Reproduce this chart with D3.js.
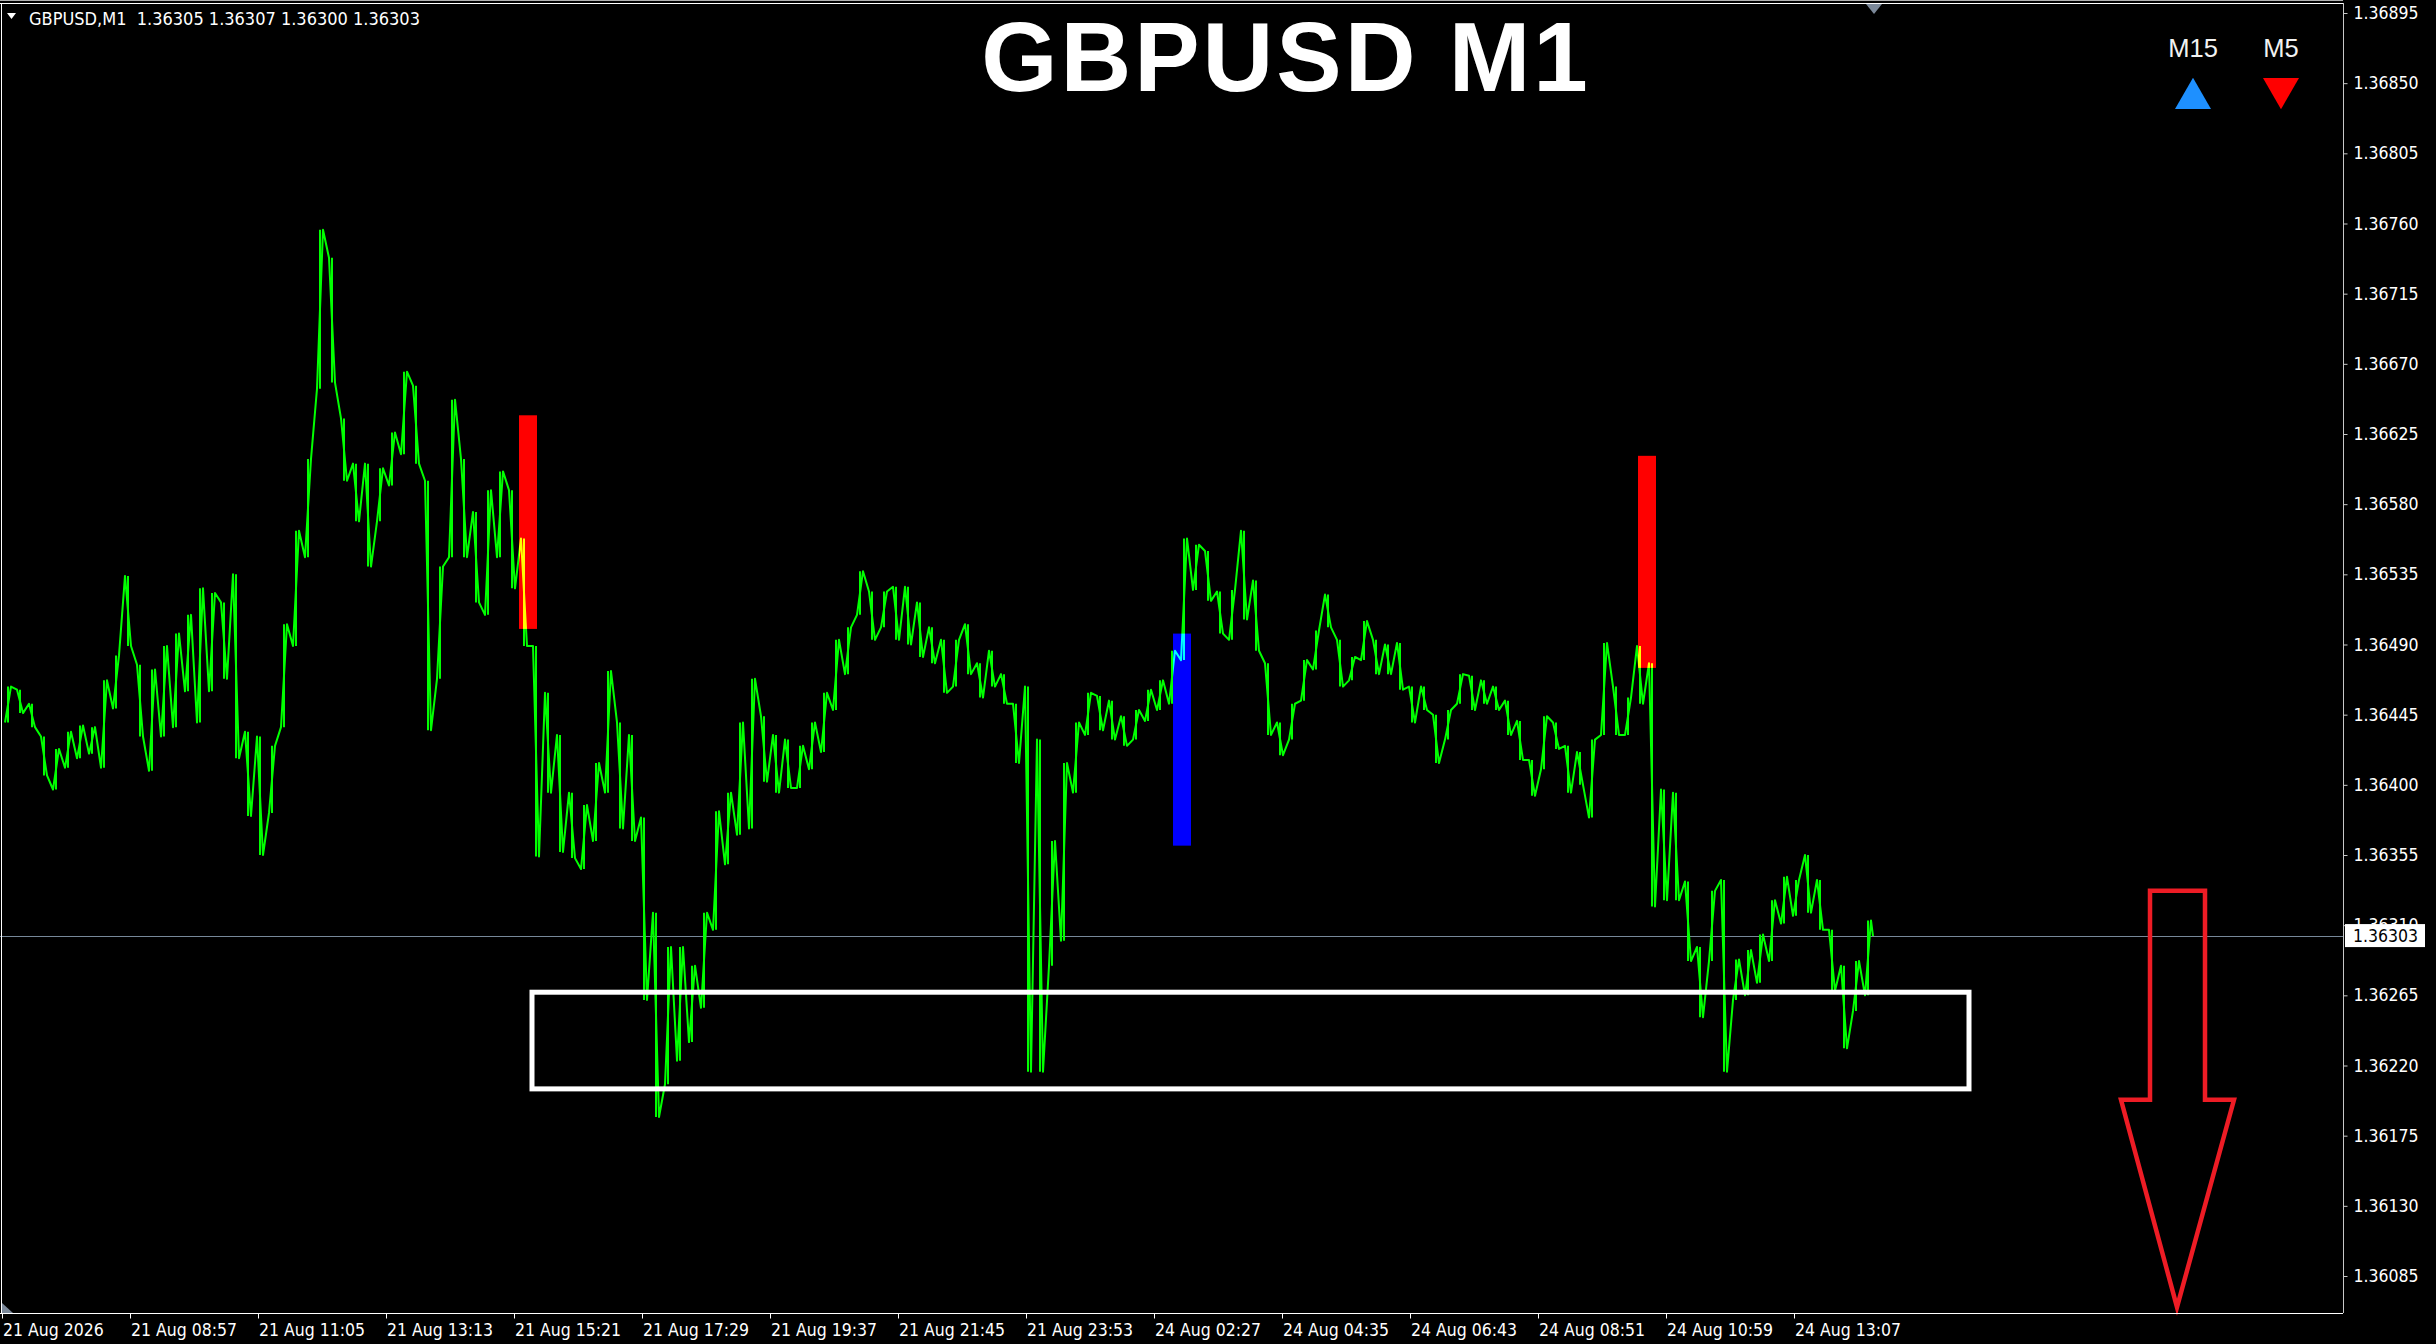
<!DOCTYPE html>
<html><head><meta charset="utf-8">
<script src="https://cdn.jsdelivr.net/npm/d3@7"></script>
<style>
html,body{margin:0;padding:0;background:#000;overflow:hidden}
svg{display:block}
.mt{font-family:"DejaVu Sans Condensed","DejaVu Sans",sans-serif;font-stretch:condensed;}
</style></head><body>
<svg id="c" width="2436" height="1344"></svg>
<script>
// ---------- DATA ----------
const symbol = "GBPUSD";
const timeframe = "M1";
const lastOHLC = [1.36305, 1.36307, 1.36300, 1.36303];
const lastPrice = 1.36303;
const barsPerBlock = 12;   // each block summarises 12 one-minute bars
const blockHighs = [
1.36463,1.36461,1.36452,1.36431,1.36423,1.36434,1.36438,1.36437,1.36467,1.36483,
1.36534,1.36477,1.36474,1.36489,1.36497,1.36509,1.36526,1.36523,1.36517,1.36535,
1.36434,1.36431,1.36425,1.36503,1.36563,1.36609,1.36756,1.36738,1.36635,1.36606,
1.36606,1.36603,1.36626,1.36665,1.36656,1.36595,1.36540,1.36647,1.36609,1.36575,
1.36589,1.36601,1.36589,1.36558,1.36489,1.36459,1.36432,1.36395,1.36387,1.36414,
1.36473,1.36440,1.36432,1.36379,1.36318,1.36296,1.36296,1.36284,1.36318,1.36383,
1.36395,1.36440,1.36468,1.36444,1.36432,1.36429,1.36425,1.36440,1.36459,1.36493,
1.36501,1.36537,1.36524,1.36524,1.36527,1.36527,1.36517,1.36501,1.36493,1.36493,
1.36503,1.36478,1.36486,1.36471,1.36452,1.36463,1.36429,1.36364,1.36414,1.36440,
1.36459,1.36457,1.36454,1.36444,1.36448,1.36461,1.36467,1.36486,1.36558,1.36554,
1.36550,1.36524,1.36525,1.36563,1.36531,1.36478,1.36440,1.36452,1.36480,1.36499,
1.36522,1.36493,1.36482,1.36505,1.36493,1.36490,1.36491,1.36463,1.36463,1.36445,
1.36448,1.36471,1.36470,1.36467,1.36463,1.36454,1.36441,1.36416,1.36444,1.36440,
1.36425,1.36421,1.36429,1.36491,1.36463,1.36456,1.36489,1.36478,1.36397,1.36395,
1.36338,1.36296,1.36332,1.36339,1.36288,1.36294,1.36304,1.36326,1.36341,1.36339,
1.36355,1.36339,1.36307,1.36284,1.36287,1.36313];
const blockLows = [
1.36440,1.36446,1.36437,1.36406,1.36397,1.36411,1.36417,1.36420,1.36411,1.36449,
1.36489,1.36431,1.36409,1.36431,1.36437,1.36460,1.36440,1.36460,1.36468,1.36417,
1.36380,1.36355,1.36382,1.36437,1.36489,1.36546,1.36654,1.36658,1.36595,1.36569,
1.36540,1.36569,1.36592,1.36612,1.36606,1.36435,1.36468,1.36546,1.36546,1.36517,
1.36509,1.36546,1.36526,1.36489,1.36354,1.36395,1.36357,1.36353,1.36346,1.36364,
1.36395,1.36372,1.36364,1.36262,1.36187,1.36208,1.36223,1.36235,1.36257,1.36307,
1.36349,1.36368,1.36372,1.36402,1.36395,1.36398,1.36398,1.36410,1.36421,1.36448,
1.36471,1.36509,1.36493,1.36501,1.36493,1.36490,1.36482,1.36478,1.36459,1.36463,
1.36471,1.36456,1.36463,1.36452,1.36414,1.36216,1.36216,1.36284,1.36300,1.36395,
1.36432,1.36435,1.36429,1.36425,1.36429,1.36441,1.36448,1.36452,1.36480,1.36525,
1.36518,1.36497,1.36493,1.36506,1.36486,1.36432,1.36419,1.36429,1.36454,1.36474,
1.36501,1.36463,1.36467,1.36480,1.36471,1.36471,1.36461,1.36440,1.36448,1.36414,
1.36429,1.36452,1.36448,1.36452,1.36448,1.36432,1.36416,1.36393,1.36410,1.36423,
1.36395,1.36400,1.36379,1.36432,1.36432,1.36432,1.36452,1.36322,1.36326,1.36326,
1.36287,1.36251,1.36287,1.36216,1.36262,1.36265,1.36273,1.36287,1.36311,1.36316,
1.36318,1.36307,1.36268,1.36231,1.36255,1.36265];

const priceTicks = [1.36085,1.36130,1.36175,1.36220,1.36265,1.36310,1.36355,1.36400,1.36445,1.36490,
1.36535,1.36580,1.36625,1.36670,1.36715,1.36760,1.36805,1.36850,1.36895];
const timeTickBars = [0,128,256,384,512,640,768,896,1024,1152,1280,1408,1536,1664,1792];
const timeTickLabels = ["21 Aug 2026","21 Aug 08:57","21 Aug 11:05","21 Aug 13:13","21 Aug 15:21",
"21 Aug 17:29","21 Aug 19:37","21 Aug 21:45","21 Aug 23:53","24 Aug 02:27","24 Aug 04:35",
"24 Aug 06:43","24 Aug 08:51","24 Aug 10:59","24 Aug 13:07"];

// indicator signal bars (bar index span, price span, direction)
const signalStartBar = [517, 1171, 1636];
const signalEndBar   = [535, 1189, 1654];
const signalTop      = [1.36637, 1.36497, 1.36611];
const signalBottom   = [1.36500, 1.36361, 1.36475];
const signalDir      = ["down", "up", "down"];

// support zone rectangle
const zoneBars   = [530, 1967];
const zonePrices = [1.36267, 1.36205];

// big down arrow drawing object (bars / prices)
const arrowShaftBars = [2148, 2203];
const arrowHeadBars  = [2119, 2232];
const arrowTipBar    = 2175;
const arrowPrices    = [1.36332, 1.36198, 1.36065]; // top, shoulder, tip

// multi-timeframe legend
const trendLabels = ["M15", "M5"];
const trendDirs   = ["up", "down"];

// ---------- DRAW ----------
const svg = d3.select("#c");
const W = 2436, H = 1344;
const plotR = 2343, plotB = 1313, plotT = 3;
const dirColor = {up: "#1e90ff", down: "#ff0000"};
const signalColor = {up: "#0000ff", down: "#ff0000"};

svg.append("rect").attr("width", W).attr("height", H).attr("fill", "#000");

const x = d3.scaleLinear().domain([0, 2341]).range([2, plotR]);
const y = d3.scaleLinear().domain([1.36085, 1.36895]).range([1276, 13]);

const plot = svg.append("g").style("isolation", "isolate");
plot.append("rect").attr("x", 0).attr("y", 0).attr("width", plotR).attr("height", plotB).attr("fill", "#000");

// current price line
plot.append("line").attr("x1", 0).attr("x2", plotR)
  .attr("y1", Math.round(y(lastPrice)) + 0.5).attr("y2", Math.round(y(lastPrice)) + 0.5)
  .attr("stroke", "#778899").attr("stroke-width", 1);

// price line built from the block highs/lows
const n = blockHighs.length;
const mid = i => (blockHighs[i] + blockLows[i]) / 2;
const pts = [];
for (let i = 0; i < n; i++) {
  const pm = i > 0 ? mid(i - 1) : mid(i);
  const nm = i < n - 1 ? mid(i + 1) : lastPrice;
  const rising = nm > pm;
  const b0 = i * barsPerBlock;
  const first = rising ? blockLows[i] : blockHighs[i];
  const second = rising ? blockHighs[i] : blockLows[i];
  pts.push([b0 + 3, first]);
  pts.push([b0 + 9, second]);
}
pts.push([n * barsPerBlock - 1, lastPrice]);
const green = "#00ff00";
// block ranges as thin vertical strokes (dense M1 texture)
plot.append("g").selectAll("line").data(blockHighs).enter().append("line")
  .attr("x1", (d, i) => x(i * barsPerBlock + 6)).attr("x2", (d, i) => x(i * barsPerBlock + 6))
  .attr("y1", d => y(d)).attr("y2", (d, i) => y(blockLows[i]))
  .attr("stroke", green).attr("stroke-width", 2);
plot.append("path").datum(pts)
  .attr("d", d3.line().x(d => x(d[0])).y(d => y(d[1])))
  .attr("fill", "none").attr("stroke", green).attr("stroke-width", 2)
  .attr("stroke-linejoin", "round");

// signal bars (additive look over the line)
plot.selectAll("rect.sig").data(signalDir).enter().append("rect")
  .attr("class", "sig")
  .attr("x", (d, i) => x(signalStartBar[i]))
  .attr("width", (d, i) => x(signalEndBar[i]) - x(signalStartBar[i]))
  .attr("y", (d, i) => y(signalTop[i]))
  .attr("height", (d, i) => y(signalBottom[i]) - y(signalTop[i]))
  .attr("fill", d => signalColor[d])
  .style("mix-blend-mode", "screen");

// zone rectangle
plot.append("rect")
  .attr("x", x(zoneBars[0])).attr("width", x(zoneBars[1]) - x(zoneBars[0]))
  .attr("y", y(zonePrices[0])).attr("height", y(zonePrices[1]) - y(zonePrices[0]))
  .attr("fill", "none").attr("stroke", "#fff").attr("stroke-width", 5);

// down arrow
const arrowPts = [
  [arrowShaftBars[0], arrowPrices[0]], [arrowShaftBars[1], arrowPrices[0]],
  [arrowShaftBars[1], arrowPrices[1]], [arrowHeadBars[1], arrowPrices[1]],
  [arrowTipBar, arrowPrices[2]], [arrowHeadBars[0], arrowPrices[1]],
  [arrowShaftBars[0], arrowPrices[1]]
];
plot.append("path")
  .attr("d", d3.line().x(d => x(d[0])).y(d => y(d[1]))(arrowPts) + "Z")
  .attr("fill", "none").attr("stroke", "#ee1c25").attr("stroke-width", 4.5)
  .attr("stroke-linejoin", "miter");

// frame
svg.append("line").attr("x1", 0).attr("x2", plotR).attr("y1", 0.5).attr("y2", 0.5).attr("stroke", "#b0b0b0");
svg.append("line").attr("x1", 1.5).attr("x2", 1.5).attr("y1", plotT).attr("y2", plotB).attr("stroke", "#fff");
svg.append("line").attr("x1", 0).attr("x2", plotR).attr("y1", plotT + 0.5).attr("y2", plotT + 0.5).attr("stroke", "#fff");

// right price axis
const yAxis = d3.axisRight(y).tickValues(priceTicks).tickSize(4).tickSizeOuter(0)
  .tickPadding(6).tickFormat(d3.format(".5f"));
const gy = svg.append("g").attr("class", "mt").attr("transform", `translate(${plotR + 0.5},0)`).call(yAxis);
gy.select(".domain").attr("d", `M0,${plotT}V${plotB}`).attr("stroke", "#c8c8c8");
gy.selectAll(".tick line").attr("stroke", "#c8c8c8");
gy.selectAll(".tick text").attr("fill", "#fff").attr("font-size", 17.5);

// bottom time axis
const xAxis = d3.axisBottom(x).tickValues(timeTickBars).tickSize(5).tickSizeOuter(0)
  .tickFormat((d, i) => timeTickLabels[i]);
const gx = svg.append("g").attr("class", "mt").attr("transform", `translate(0,${plotB + 0.5})`).call(xAxis);
gx.select(".domain").attr("d", `M0,0H${plotR}`).attr("stroke", "#fff");
gx.selectAll(".tick line").attr("stroke", "#fff");
gx.selectAll(".tick text").attr("fill", "#fff").attr("font-size", 17.5)
  .attr("text-anchor", "start").attr("x", 0.5).attr("y", 22.5).attr("dy", 0);

// current price label on the axis
svg.append("rect").attr("x", plotR + 2).attr("y", y(lastPrice) - 12).attr("width", 80).attr("height", 23)
  .attr("fill", "#fff");
svg.append("text").attr("class", "mt").attr("x", plotR + 10).attr("y", y(lastPrice)).attr("dy", "0.36em")
  .attr("font-size", 17.5).attr("fill", "#000").text(d3.format(".5f")(lastPrice));

// chart-end marker (top) and scroll marker (bottom-left)
const endX = x(n * barsPerBlock);
svg.append("path").attr("d", `M${endX - 8},${plotT + 1}L${endX + 8},${plotT + 1}L${endX},${plotT + 11}Z`).attr("fill", "#7b8899");
svg.append("path").attr("d", `M2,${plotB - 10}L2,${plotB}L13,${plotB}Z`).attr("fill", "#7b8899");

// header
svg.append("path").attr("d", "M7,13L16,13L11.5,19Z").attr("fill", "#fff");
svg.append("text").attr("class", "mt").attr("x", 29).attr("y", 25).attr("font-size", 18)
  .attr("fill", "#fff").style("white-space", "pre")
  .text(`${symbol},${timeframe}  ${lastOHLC.map(d3.format(".5f")).join(" ")}`);

// title
svg.append("text").attr("x", 1286).attr("y", 91).attr("text-anchor", "middle")
  .attr("font-family", "'Liberation Sans', Arial, sans-serif").attr("font-weight", "bold")
  .attr("font-size", 98).attr("letter-spacing", 3).attr("fill", "#fff")
  .text(`${symbol} ${timeframe}`);

// legend
const leg = svg.append("g").selectAll("g").data(trendLabels).enter().append("g")
  .attr("transform", (d, i) => `translate(${2193 + i * 88},0)`);
leg.append("text").attr("text-anchor", "middle").attr("y", 57)
  .attr("font-family", "'Liberation Sans', Arial, sans-serif").attr("font-size", 25.5)
  .attr("fill", "#f2f2f2").text(d => d);
leg.append("path")
  .attr("d", d3.symbol(d3.symbolTriangle, 561))
  .attr("transform", (d, i) => trendDirs[i] === "up" ? "translate(0,98.6)" : "translate(0,88.4) rotate(180)")
  .attr("fill", (d, i) => dirColor[trendDirs[i]]);
</script>
</body></html>
